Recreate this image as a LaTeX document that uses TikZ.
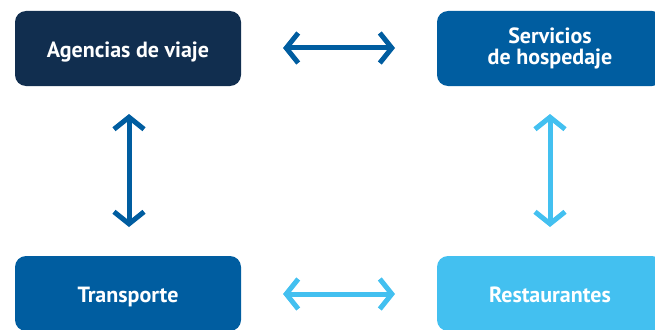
\documentclass[tikz,border=0pt]{standalone}
\usepackage{fontspec}
\setmainfont{PT Sans}
\usetikzlibrary{arrows.meta}
\definecolor{navy}{HTML}{112E4F}
\definecolor{midblue}{HTML}{005DA0}
\definecolor{skyblue}{HTML}{43C0F0}
\begin{document}
\begin{tikzpicture}[x=1pt,y=-1pt,
  card/.style={rounded corners=11pt, minimum width=226pt, minimum height=75pt,
    inner sep=0pt, text=white, font=\bfseries\fontsize{22}{20.5}\selectfont, align=center},
  oneline/.style={text height=17.5pt, text depth=0.5pt},
  link/.style={line width=5pt, {Straight Barb[length=12pt,width=30pt,line width=5pt]}-{Straight Barb[length=12pt,width=30pt,line width=5pt]}}
]
\useasboundingbox (0,0) rectangle (655,329);
\clip (0,0) rectangle (655,329);
% the four cards
\node[card, oneline, fill=navy]    (agencias)  at (128,48.5)  {Agencias de viaje};
\node[card, fill=midblue] (hospedaje) at (550,48.5)  {Servicios\\de hospedaje};
\node[card, oneline, fill=midblue] (transporte) at (128,293.5) {Transporte};
\node[card, oneline, fill=skyblue] (restaurantes) at (550,293.5) {Restaurantes};
% anchor points for the double arrows
\coordinate (t1) at (283,48);  \coordinate (t2) at (395,48);
\coordinate (b1) at (283,294); \coordinate (b2) at (395,294);
\coordinate (l1) at (129,114); \coordinate (l2) at (129,227);
\coordinate (r1) at (550,114); \coordinate (r2) at (550,227);
\draw[link, midblue] (t1) -- (t2);
\draw[link, skyblue] (b1) -- (b2);
\draw[link, midblue] (l1) -- (l2);
\draw[link, skyblue] (r1) -- (r2);
\end{tikzpicture}
\end{document}
